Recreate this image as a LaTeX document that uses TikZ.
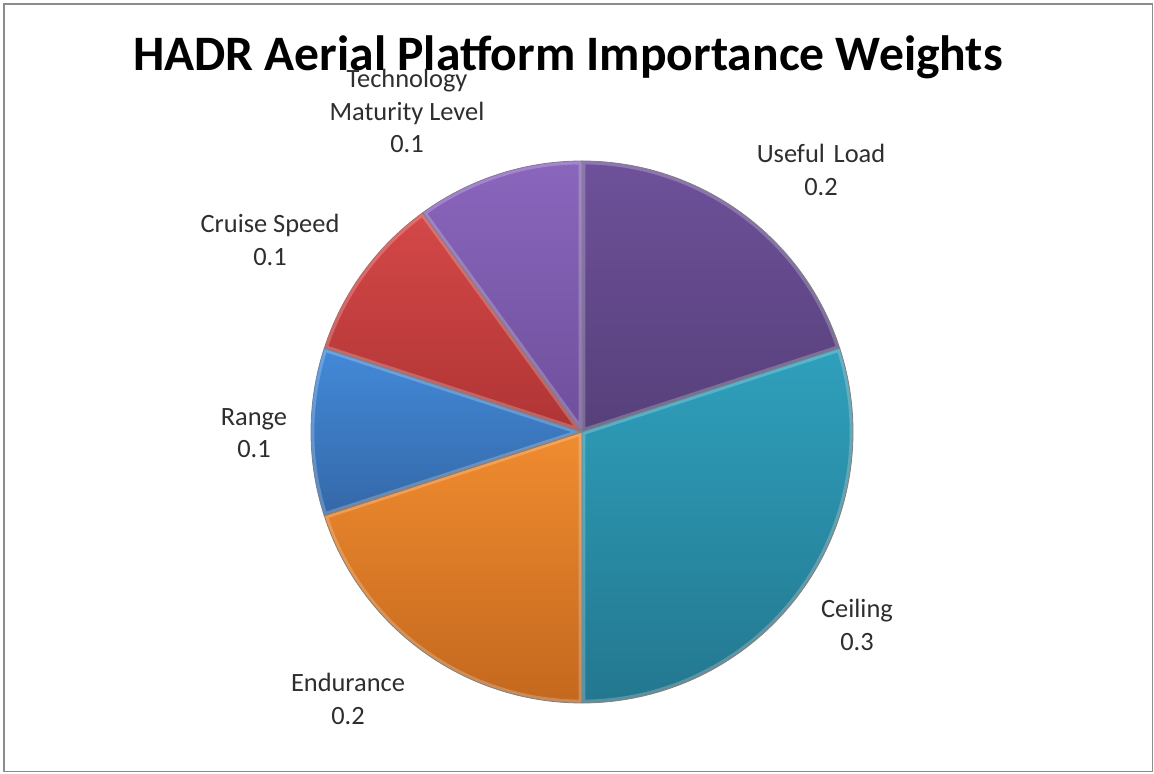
\documentclass[tikz,border=0pt]{standalone}
\usepackage{fontspec}
\setmainfont{Carlito}
\definecolor{ulTop}{HTML}{6E519A}\definecolor{ulBot}{HTML}{56407A}
\definecolor{ceTop}{HTML}{2FA0BC}\definecolor{ceBot}{HTML}{23778F}
\definecolor{enTop}{HTML}{F08C30}\definecolor{enBot}{HTML}{C4681E}
\definecolor{raTop}{HTML}{4389D8}\definecolor{raBot}{HTML}{3468A8}
\definecolor{crTop}{HTML}{D44848}\definecolor{crBot}{HTML}{B03434}
\definecolor{teTop}{HTML}{8A66BC}\definecolor{teBot}{HTML}{6E4F9C}
\definecolor{labelgray}{HTML}{2E2E2E}
\newcommand{\pieslice}[4]{%
  \shade[top color=#3,bottom color=#4] (C) -- ++(#1:\R) arc[start angle=#1,end angle=#2,radius=\R] -- cycle;
  \begin{scope}
    \clip (C) -- ++(#1:\R) arc[start angle=#1,end angle=#2,radius=\R] -- cycle;
    \draw[white,opacity=0.22,line width=5pt,line join=round] (C) -- ++(#1:\R) arc[start angle=#1,end angle=#2,radius=\R] -- cycle;
  \end{scope}
  \draw[slice] (C) -- ++(#1:\R) arc[start angle=#1,end angle=#2,radius=\R] -- cycle;}
\begin{document}
\begin{tikzpicture}[x=0.75pt,y=0.75pt,
  lbl/.style={align=center,text=labelgray,font=\fontsize{19.8}{24.5}\selectfont,inner sep=0pt},
  ttl/.style={text=black,font=\bfseries\fontsize{37.2}{40}\selectfont,inner sep=0pt},
  slice/.style={draw=black!50,line width=0.6pt,line join=round}]
\useasboundingbox (0,0) rectangle (1154,774);
\fill[white] (0,0) rectangle (1154,774);
\draw[black!45,line width=1.3pt] (4,2.5) rectangle (1152.5,770);
\coordinate (C) at (582,342);
\def\R{271}
% slices
\pieslice{90}{18}{ulTop}{ulBot}
\pieslice{18}{-90}{ceTop}{ceBot}
\pieslice{-90}{-162}{enTop}{enBot}
\pieslice{-162}{-198}{raTop}{raBot}
\pieslice{-198}{-234}{crTop}{crBot}
\pieslice{-234}{-270}{teTop}{teBot}
% title and labels
\node[ttl] (title) at (568,717) {HADR Aerial Platform Importance Weights};
\node[lbl] (ul) at (821,604) {Useful\,\,Load\\0.2};
\node[lbl] (ce) at (857,149) {Ceiling\\0.3};
\node[lbl] (en) at (348,75) {Endurance\\0.2};
\node[lbl] (ra) at (254,341) {Range\\0.1};
\node[lbl] (cr) at (270,534) {Cruise Speed\\0.1};
\node[lbl] (te) at (407,663) {Technology\\Maturity Level\\0.1};
\end{tikzpicture}
\end{document}
